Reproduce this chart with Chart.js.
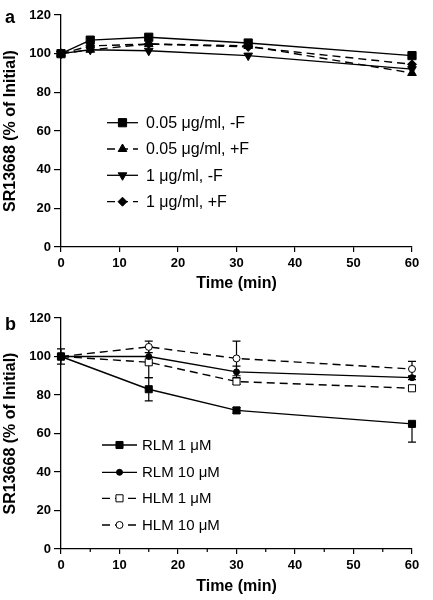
<!DOCTYPE html>
<html>
<head>
<meta charset="utf-8">
<script src="https://cdn.jsdelivr.net/npm/chart.js@4/dist/chart.umd.min.js"></script>
<style>
body{margin:0;background:#fff;}
.panel{position:relative;width:433px;height:300px;}
</style>
</head>
<body>
<div class="panel"><canvas id="chartA" width="433" height="300"></canvas></div>
<div class="panel"><canvas id="chartB" width="433" height="300"></canvas></div>
<script>
// ---- panel a data ----
let timesA = [0, 5, 15, 32, 60];
let a005noF = [100, 107, 108.5, 105.5, 99];
let a005F = [100, 102, 105, 104, 90];
let a1noF = [100, 102, 101.5, 99, 92];
let a1F = [100, 104, 105, 103.5, 94.5];
let labelsA = ["0.05 \u03bcg/ml, -F", "0.05 \u03bcg/ml, +F", "1 \u03bcg/ml, -F", "1 \u03bcg/ml, +F"];

// ---- panel b data (errors: below / above) ----
let timesB = [0, 15, 30, 60];
let rlm1 = [100, 83, 72, 65];
let rlm1Lo = [4, 6, 1.5, 9.5];
let rlm1Hi = [4, 6, 1.5, 0];
let rlm10 = [100, 100, 92, 89];
let rlm10Lo = [0, 0, 3, 1];
let rlm10Hi = [0, 0, 3, 1];
let hlm1 = [100, 97, 87, 83.5];
let hlm1Lo = [0, 8, 1.5, 0];
let hlm1Hi = [0, 8, 1.5, 0];
let hlm10 = [100, 105, 99, 93.5];
let hlm10Lo = [0, 3, 9, 4];
let hlm10Hi = [0, 3, 9, 4];
let labelsB = ["RLM 1 \u03bcM", "RLM 10 \u03bcM", "HLM 1 \u03bcM", "HLM 10 \u03bcM"];

let yTicks = [0, 20, 40, 60, 80, 100, 120];
let xTicks = [0, 10, 20, 30, 40, 50, 60];

const FAM = '"Liberation Sans", Arial, Helvetica, sans-serif';
const DASH = [8, 5];

function pts(xs, ys){
    return xs.map((x, i) => ({x: x, y: ys[i]}));
}

function marker(ctx, style, x, y, r, fill, rot){
    ctx.save();
    ctx.setLineDash([]);
    ctx.fillStyle = fill;
    ctx.strokeStyle = "#000";
    ctx.lineWidth = 1;
    ctx.beginPath();
    if(style == "rect"){
        let s = Math.SQRT1_2 * r;
        ctx.rect(x - s, y - s, 2*s, 2*s);
    } else if(style == "circle"){
        ctx.arc(x, y, r, 0, Math.PI*2);
    } else if(style == "rectRot"){
        ctx.moveTo(x, y - r); ctx.lineTo(x + r, y); ctx.lineTo(x, y + r); ctx.lineTo(x - r, y);
        ctx.closePath();
    } else if(style == "triangle"){
        let d = rot ? -1 : 1;
        ctx.moveTo(x, y - d*r);
        ctx.lineTo(x + r*0.866, y + d*r*0.5);
        ctx.lineTo(x - r*0.866, y + d*r*0.5);
        ctx.closePath();
    }
    ctx.fill();
    ctx.stroke();
    ctx.restore();
}

// legend drawn inside plot, line sample with marker in middle
const legendPlugin = {
    id: "lineLegend",
    afterDraw(chart, args, opts){
        let ctx = chart.ctx;
        ctx.save();
        ctx.font = opts.fontSize + "px " + FAM;
        ctx.fillStyle = "#000";
        ctx.textBaseline = "middle";
        chart.data.datasets.forEach((ds, i) => {
            let y = opts.rows[i];
            ctx.beginPath();
            ctx.strokeStyle = "#000";
            ctx.lineWidth = 1.3;
            ctx.setLineDash(ds.borderDash || []);
            ctx.moveTo(opts.x0, y);
            ctx.lineTo(opts.x1, y);
            ctx.stroke();
            ctx.setLineDash([]);
            marker(ctx, ds.pointStyle, (opts.x0 + opts.x1)/2, y, ds.pointRadius, ds.pointBackgroundColor, ds.pointRotation);
            ctx.fillText(ds.label, opts.tx, y + 1);
        });
        // panel letter
        ctx.font = "bold 18px " + FAM;
        ctx.textBaseline = "alphabetic";
        ctx.fillText(opts.letter, opts.letterX, opts.letterY);
        ctx.restore();
    }
};

const errPlugin = {
    id: "errBars",
    beforeDatasetsDraw(chart){
        let ctx = chart.ctx;
        let xs = chart.scales.x, ys = chart.scales.y;
        ctx.save();
        ctx.strokeStyle = "#000";
        ctx.lineWidth = 1.2;
        chart.data.datasets.forEach(ds => {
            if(!ds.errLo) return;
            ds.data.forEach((p, i) => {
                let lo = ds.errLo[i], hi = ds.errHi[i];
                if(!lo && !hi) return;
                let px = xs.getPixelForValue(p.x);
                let top = ys.getPixelForValue(p.y + hi);
                let bot = ys.getPixelForValue(p.y - lo);
                ctx.beginPath();
                ctx.moveTo(px, top); ctx.lineTo(px, bot);
                if(hi){ ctx.moveTo(px - 4, top); ctx.lineTo(px + 4, top); }
                if(lo){ ctx.moveTo(px - 4, bot); ctx.lineTo(px + 4, bot); }
                ctx.stroke();
            });
        });
        ctx.restore();
    }
};

const minorPlugin = {
    id: "minorTicks",
    afterDraw(chart, args, opts){
        if(!opts.values) return;
        let ctx = chart.ctx;
        let xs = chart.scales.x;
        let yb = chart.chartArea.bottom;
        ctx.save();
        ctx.strokeStyle = "#000";
        ctx.lineWidth = 1.2;
        opts.values.forEach(v => {
            let px = xs.getPixelForValue(v);
            ctx.beginPath();
            ctx.moveTo(px, yb); ctx.lineTo(px, yb + 3);
            ctx.stroke();
        });
        ctx.restore();
    }
};

function series(label, xs, ys, style, filled, dashed, r, rot, lo, hi){
    return {
        label: label,
        data: pts(xs, ys),
        borderColor: "#000",
        borderWidth: 1.4,
        borderDash: dashed ? DASH : [],
        pointStyle: style,
        pointRadius: r,
        pointRotation: rot ? 180 : 0,
        pointBackgroundColor: filled ? "#000" : "#fff",
        pointBorderColor: "#000",
        pointBorderWidth: 1,
        tension: 0,
        fill: false,
        clip: false,
        errLo: lo,
        errHi: hi
    };
}

function makeOptions(top, xHeight, titlePad, legendOpts, minor){
    return {
        responsive: false,
        animation: false,
        layout: {padding: {left: 0, right: 21, top: top, bottom: 0}},
        plugins: {
            legend: {display: false},
            tooltip: {enabled: false},
            lineLegend: legendOpts,
            minorTicks: {values: minor}
        },
        scales: {
            x: {
                type: "linear", min: 0, max: 60,
                afterBuildTicks: s => { s.ticks = xTicks.map(v => ({value: v})); },
                ticks: {color: "#000", font: {family: FAM, size: 13, weight: "bold"}, padding: 4, maxRotation: 0},
                grid: {drawOnChartArea: false, drawTicks: true, tickLength: 5, color: "#000", lineWidth: 1.2},
                border: {color: "#000", width: 1.3},
                title: {display: true, text: "Time (min)", color: "#000", font: {family: FAM, size: 16, weight: "bold"}, padding: {top: 0, bottom: titlePad}},
                afterFit: s => { s.height = xHeight; }
            },
            y: {
                min: 0, max: 120,
                afterBuildTicks: s => { s.ticks = yTicks.map(v => ({value: v})); },
                ticks: {color: "#000", font: {family: FAM, size: 13, weight: "bold"}, padding: 3},
                grid: {drawOnChartArea: false, drawTicks: true, tickLength: 7, color: "#000", lineWidth: 1.2},
                border: {color: "#000", width: 1.3},
                title: {display: true, text: "SR13668 (% of Initial)", color: "#000", font: {family: FAM, size: 16, weight: "bold"}, padding: {top: 1, bottom: 0}},
                afterFit: s => { s.width = 61; }
            }
        }
    };
}

new Chart(document.getElementById("chartA"), {
    type: "line",
    data: {datasets: [
        series(labelsA[0], timesA, a005noF, "rect", true, false, 5.8),
        series(labelsA[1], timesA, a005F, "triangle", true, true, 5),
        series(labelsA[2], timesA, a1noF, "triangle", true, false, 5, true),
        series(labelsA[3], timesA, a1F, "rectRot", true, true, 4.5)
    ]},
    options: makeOptions(15, 53, 7,
        {x0: 107, x1: 138, tx: 146, rows: [122.7, 149, 175.3, 201.7], fontSize: 16, letter: "a", letterX: 5, letterY: 23}, null),
    plugins: [errPlugin, legendPlugin, minorPlugin]
});

new Chart(document.getElementById("chartB"), {
    type: "line",
    data: {datasets: [
        series(labelsB[0], timesB, rlm1, "rect", true, false, 5, false, rlm1Lo, rlm1Hi),
        series(labelsB[1], timesB, rlm10, "circle", true, false, 3, false, rlm10Lo, rlm10Hi),
        series(labelsB[2], timesB, hlm1, "rect", false, true, 5, false, hlm1Lo, hlm1Hi),
        series(labelsB[3], timesB, hlm10, "circle", false, true, 3.5, false, hlm10Lo, hlm10Hi)
    ]},
    options: makeOptions(18, 51, 4,
        {x0: 102, x1: 137, tx: 142, rows: [145, 172.3, 198.3, 225], fontSize: 15, letter: "b", letterX: 5, letterY: 30},
        [5, 15, 25, 35, 45, 55]),
    plugins: [errPlugin, legendPlugin, minorPlugin]
});
</script>
</body>
</html>
